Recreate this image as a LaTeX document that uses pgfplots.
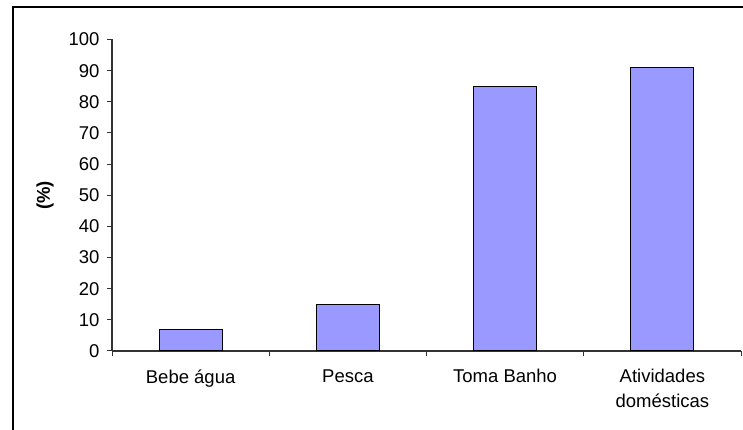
\documentclass[border=0pt]{standalone}
\usepackage{fontspec}
\setmainfont{Liberation Sans}
\usepackage{pgfplots}
\pgfplotsset{compat=1.18}
\definecolor{barblue}{HTML}{9999FF}
\newcommand{\chartfont}{\fontsize{18.5}{25}\selectfont}
\begin{document}
\begin{tikzpicture}
% page = 743 x 430, axis origin at image pixel (112, 351)
\useasboundingbox (-112pt,-79pt) rectangle (631pt,351pt);
\draw[line width=1.3pt] (-99pt,-95pt) -- (-99pt,344pt) -- (650pt,344pt);
\begin{axis}[
    at={(0pt,0pt)}, anchor=south west,
    scale only axis,
    width=629pt, height=311.5pt,
    tick label style={font=\chartfont},
    label style={font=\chartfont},
    /pgf/number format/assume math mode=true,
    ymin=0, ymax=100,
    ytick={0,10,...,100},
    xmin=-0.5, xmax=3.5,
    xtick={-0.5,0.5,1.5,2.5,3.5},
    xticklabels={},
    extra x ticks={0,1,2,3},
    extra x tick labels={Bebe água,Pesca,Toma Banho,{Atividades\\domésticas}},
    extra x tick style={major tick length=0pt,
        tick label style={align=center, yshift=-15pt, font=\chartfont}},
    axis x line*=bottom, axis y line*=left,
    axis line style={line width=1.2pt, black!80, -},
    tick style={line width=1pt, black!80},
    tick align=outside,
    major tick length=5pt,
    yticklabel style={xshift=-4pt},
    ylabel={\textbf{(\%)}},
    ylabel style={yshift=8pt},
    ybar, bar width=63pt,
    clip=false,
]
\addplot[fill=barblue, draw=black, line width=1pt] coordinates {
    (0,7) (1,15) (2,85) (3,91)
};
\end{axis}
\end{tikzpicture}
\end{document}
